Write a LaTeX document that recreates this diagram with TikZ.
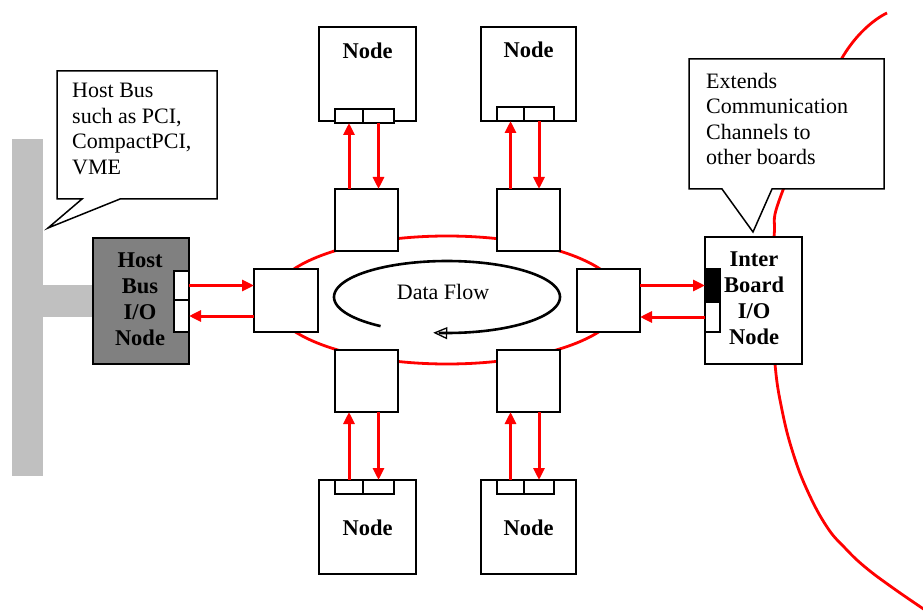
\documentclass[tikz,border=0pt]{standalone}
\usepackage{fontspec}
\setmainfont{Liberation Serif}
\usetikzlibrary{arrows.meta}
\definecolor{busgray}{RGB}{192,192,192}
\definecolor{hostgray}{RGB}{128,128,128}
\begin{document}
\begin{tikzpicture}[x=1pt,y=-1pt,
  box/.style={draw=black,line width=1.6pt,fill=white,inner sep=0pt,outer sep=0pt},
  lbl/.style={font=\fontsize{22.5}{26}\selectfont\bfseries,align=center,inner sep=0pt},
  txt/.style={font=\fontsize{22}{25.5}\selectfont,align=left,inner sep=0pt},
  rarrow/.style={draw=red,line width=3pt,-{Triangle[length=12pt,width=11pt]}},
  ring/.style={draw=red,line width=2.8pt},
  callout/.style={draw=black,line width=1.5pt,fill=white,line join=miter}
]
\useasboundingbox (0,0) rectangle (923,612);
% host bus
\fill[busgray] (12,139) rectangle (43,476);
\fill[busgray] (43,285) rectangle (93,317);
% red ring
\draw[ring] (447,300) ellipse [x radius=175, y radius=64];
% big red curve to other boards
\draw[ring] plot[smooth,tension=0.7] coordinates {(887,13) (842,58) (783,190) (774,237) (772,300) (775,364) (782,410) (793,453) (808,492) (827,527) (845,548) (865,567) (893,588) (928,612)};
% callouts
\draw[callout] (57,71) -- (217,71) -- (217,199) -- (120,199) -- (48,228) -- (82,199) -- (57,199) -- cycle;
\node[txt,anchor=north west] (c1) at (72,83) {Host Bus\\such as PCI,\\CompactPCI,\\VME};
\draw[callout] (689,59) -- (884,59) -- (884,189) -- (772,189) -- (753,232) -- (722,189) -- (689,189) -- cycle;
\node[txt,anchor=north west] (c2) at (706,73) {Extends\\Communication\\Channels to\\other boards};
% ring boxes
\node[box,minimum width=63,minimum height=62] (sTL) at (366.5,220) {};
\node[box,minimum width=63,minimum height=62] (sTR) at (528.5,220) {};
\node[box,minimum width=64,minimum height=63] (sL) at (286,300.5) {};
\node[box,minimum width=63,minimum height=63] (sR) at (608.5,300.5) {};
\node[box,minimum width=63,minimum height=62] (sBL) at (366.5,381) {};
\node[box,minimum width=63,minimum height=62] (sBR) at (528.5,381) {};
% outer nodes
\node[box,minimum width=97,minimum height=94] (nTL) at (367.5,74) {};
\node[box,minimum width=95,minimum height=94] (nTR) at (528.5,74) {};
\node[box,minimum width=97,minimum height=94] (nBL) at (367.5,527) {};
\node[box,minimum width=95,minimum height=94] (nBR) at (528.5,527) {};
\node[lbl] (tTL) at (367.5,51) {Node};
\node[lbl] (tTR) at (528.5,50) {Node};
\node[lbl] (tBL) at (367.5,528) {Node};
\node[lbl] (tBR) at (528.5,528) {Node};
% ports
\node[box,minimum width=28,minimum height=14] (pTLa) at (349,116) {};
\node[box,minimum width=31,minimum height=14] (pTLb) at (378.5,116) {};
\node[box,minimum width=27,minimum height=14] (pTRa) at (510.5,114) {};
\node[box,minimum width=30,minimum height=14] (pTRb) at (539,114) {};
\node[box,minimum width=28,minimum height=14] (pBLa) at (349,487) {};
\node[box,minimum width=31,minimum height=14] (pBLb) at (378.5,487) {};
\node[box,minimum width=27,minimum height=14] (pBRa) at (510.5,487) {};
\node[box,minimum width=30,minimum height=14] (pBRb) at (539,487) {};
% host bus I/O node
\node[box,fill=hostgray,minimum width=96,minimum height=126] (host) at (141,301) {};
\node[lbl] (thost) at (140,299) {Host\\Bus\\I/O\\Node};
\node[box,minimum width=15,minimum height=29] (hpa) at (181.5,285.5) {};
\node[box,minimum width=15,minimum height=32] (hpb) at (181.5,316) {};
% inter board I/O node
\node[box,minimum width=97,minimum height=127] (inter) at (753.5,300.5) {};
\node[lbl] (tinter) at (754,298) {Inter\\Board\\I/O\\Node};
\node[box,fill=black,minimum width=15,minimum height=33] (ipa) at (712.5,285.5) {};
\node[box,minimum width=15,minimum height=30] (ipb) at (712.5,317) {};
% arrows top
\draw[rarrow] (sTL.north -| pTLa.south) -- (pTLa.south);
\draw[rarrow] (pTLb.south) -- (sTL.north -| pTLb.south);
\draw[rarrow] (sTR.north -| pTRa.south) -- (pTRa.south);
\draw[rarrow] (pTRb.south) -- (sTR.north -| pTRb.south);
% arrows bottom
\draw[rarrow] (pBLa.north) -- (sBL.south -| pBLa.north);
\draw[rarrow] (sBL.south -| pBLb.north) -- (pBLb.north);
\draw[rarrow] (pBRa.north) -- (sBR.south -| pBRa.north);
\draw[rarrow] (sBR.south -| pBRb.north) -- (pBRb.north);
% arrows sides
\draw[rarrow] (hpa.east) -- (sL.west |- hpa.east);
\draw[rarrow] (sL.west |- hpb.east) -- (hpb.east);
\draw[rarrow] (sR.east |- ipa.west) -- (ipa.west);
\draw[rarrow] (ipb.west) -- (sR.east |- ipb.west);
% data flow
\draw[line width=2.6pt,-{Triangle[open,length=14pt,width=12pt,line width=1.3pt]}] plot[domain=126:457,samples=120] ({447+113*cos(\x)},{297+36*sin(\x)});
\node[font=\fontsize{22}{25}\selectfont,inner sep=0pt] (df) at (443,292) {Data Flow};
\end{tikzpicture}
\end{document}
